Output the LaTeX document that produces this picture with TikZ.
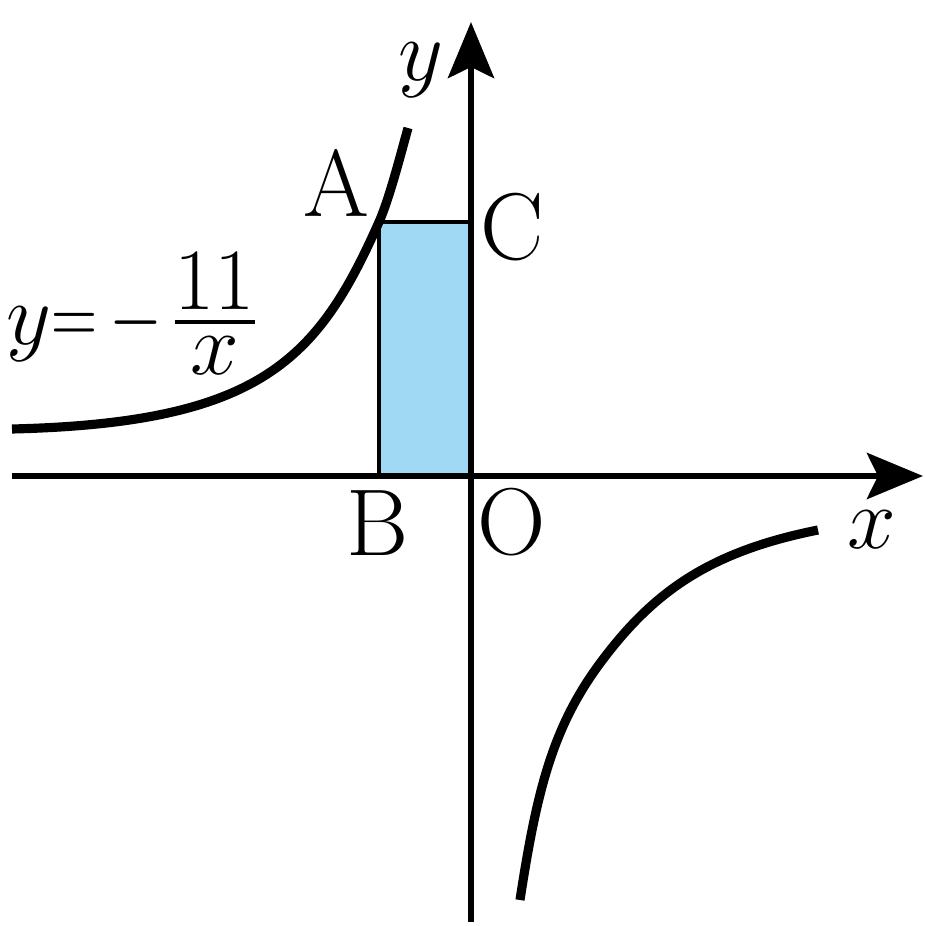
\documentclass[tikz,border=0pt]{standalone}
\usepackage{amsmath}
\usepackage{graphicx}
\usetikzlibrary{arrows.meta}
\definecolor{areablue}{RGB}{160,217,243}
\tikzset{
  axis/.style={line width=1.85pt, -{Stealth[length=5.6mm, width=4.6mm, inset=1.1mm]}},
  graph/.style={line width=2.6pt},
  edge/.style={line width=1.4pt},
  lbl/.style={font=\fontsize{27}{32}\selectfont, inner sep=0pt},
  eqn/.style={font=\fontsize{25}{30}\selectfont, inner sep=0pt},
}

\begin{document}
\begin{tikzpicture}[scale=1]
        \useasboundingbox (-4.71,-4.50) rectangle (4.54,4.76);
        \coordinate (O) at (0,0);
        \coordinate (B) at (-0.92,0);
        \coordinate (A) at (-0.92,2.54);
        \coordinate (C) at (0,2.54);
        \fill[areablue] (B) rectangle (C);
        \draw[edge] (B) -- (A) -- (C);
        \coordinate (xs) at (-4.59,0);
        \coordinate (xe) at (4.52,0);
        \coordinate (ys) at (0,-4.46);
        \coordinate (ye) at (0,4.54);
        \draw[axis] (xs) -- (xe);
        \draw[axis] (ys) -- (ye);
        % the two branches
        \coordinate (L0) at (-4.59,0.47);
        \coordinate (L1) at (-0.63,3.48);
        \draw[graph] (L0) .. controls (-2.09,0.53) and (-1.53,1.17) .. (A)
                          .. controls (-0.82,2.765) and (-0.71,3.19) .. (L1);
        \coordinate (R0) at (0.49,-4.24);
        \coordinate (RM) at (1.29,-1.873);
        \coordinate (R1) at (3.47,-0.54);
        \draw[graph] (R0) .. controls (0.657,-3.153) and (0.814,-2.516) .. (RM)
                          .. controls (1.826,-1.150) and (2.392,-0.756) .. (R1);
        \node[lbl] (labA) at (-1.35,2.93) {A};
        \node[lbl] (labC) at (0.41,2.49) {C};
        \node[lbl] (labB) at (-0.93,-0.47) {B};
        \node[lbl] (labO) at (0.41,-0.46) {O};
        \node[lbl] (laby) at (-0.50,4.06) {$y$};
        \node[lbl] (labx) at (4.01,-0.54) {$x$};
        \node[eqn, anchor=base west] (eq) at (-4.65,1.32)
            {$y\scalebox{0.73}[1]{$=$}\mkern2.5mu\scalebox{0.78}[1]{$-$}\mkern1.6mu\frac{\textstyle 11}{\textstyle x}$};
    \end{tikzpicture}
\end{document}
